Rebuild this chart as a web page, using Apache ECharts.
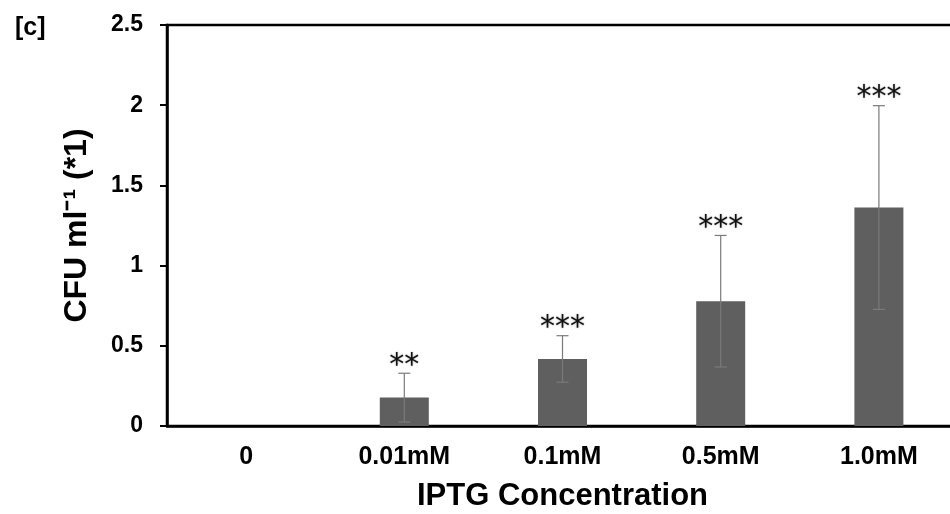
<!DOCTYPE html>
<html>
<head>
<meta charset="utf-8">
<script src="https://cdn.jsdelivr.net/npm/echarts@6/dist/echarts.min.js"></script>
<style>
  html, body { margin: 0; padding: 0; background: #fff; }
  #chart1 { width: 950px; height: 514px; }
</style>
</head>
<body>
<div id="chart1"></div>
<script>
var categories = ['0', '0.01mM', '0.1mM', '0.5mM', '1.0mM'];
var means = [0, 0.177, 0.418, 0.778, 1.362];
var errors = [0, 0.152, 0.145, 0.41, 0.635];
var stars = ['', '**', '***', '***', '***'];
var yTicks = [0, 0.5, 1, 1.5, 2, 2.5];

var chart1 = echarts.init(document.getElementById('chart1'));
var font = '"Liberation Sans", Arial, sans-serif';

var errData = means.map(function (m, i) {
	return [i, m, errors[i]];
});

var option = {
	backgroundColor: '#fff',
	animation: false,
	title: {
		text: '[c]',
		left: 10,
		top: 11,
		textStyle: {
			color: '#000',
			fontSize: 25,
			fontWeight: 'bold',
			fontFamily: font
		}
	},
	grid: {
		left: 167,
		right: -8,
		top: 25,
		bottom: 88,
		outerBoundsMode: 'none',
		containLabel: false,
		show: true,
		borderColor: '#000',
		borderWidth: 2.5
	},
	xAxis: {
		type: 'category',
		data: categories,
		name: 'IPTG Concentration',
		nameLocation: 'middle',
		nameGap: 55,
		nameTextStyle: {
			color: '#000',
			fontSize: 31,
			fontWeight: 'bold',
			fontFamily: font
		},
		axisLine: { lineStyle: { color: '#000', width: 2.5 } },
		axisTick: { alignWithLabel: true, length: 7, lineStyle: { color: '#000', width: 2 } },
		axisLabel: {
			color: '#000',
			fontSize: 25,
			fontWeight: 'bold',
			fontFamily: font,
			margin: 19
		},
		splitLine: { show: false }
	},
	yAxis: {
		type: 'value',
		min: yTicks[0],
		max: yTicks[yTicks.length - 1],
		interval: 0.5,
		name: 'CFU ml\u207B\u00B9 (*1)',
		nameLocation: 'middle',
		nameGap: 74,
		nameTextStyle: {
			color: '#000',
			fontSize: 32,
			fontWeight: 'bold',
			fontFamily: font
		},
		axisLine: { show: true, lineStyle: { color: '#000', width: 2.5 } },
		axisTick: { show: true, length: 7, lineStyle: { color: '#000', width: 2 } },
		axisLabel: {
			color: '#000',
			fontSize: 23,
			fontWeight: 'bold',
			fontFamily: font,
			margin: 24
		},
		splitLine: { show: false }
	},
	series: [{
		type: 'bar',
		data: means,
		barWidth: 49,
		itemStyle: { color: '#5f5f5f' }
	}, {
		type: 'custom',
		data: errData,
		z: 10,
		renderItem: function (params, api) {
			var i = api.value(0);
			var m = api.value(1);
			var e = api.value(2);
			if (!e) return null;
			var top = api.coord([i, m + e]);
			var bot = api.coord([i, m - e]);
			var cap = 6;
			var st = { stroke: '#7a7a7a', lineWidth: 1.2 };
			return {
				type: 'group',
				children: [{
					type: 'line',
					shape: { x1: top[0], y1: top[1], x2: bot[0], y2: bot[1] },
					style: st
				}, {
					type: 'line',
					shape: { x1: top[0] - cap, y1: top[1], x2: top[0] + cap, y2: top[1] },
					style: st
				}, {
					type: 'line',
					shape: { x1: bot[0] - cap, y1: bot[1], x2: bot[0] + cap, y2: bot[1] },
					style: st
				}, {
					type: 'text',
					x: top[0],
					y: top[1] + 8,
					style: {
						text: stars[params.dataIndex],
						align: 'center',
						verticalAlign: 'bottom',
						fill: '#111',
						font: '30px "DejaVu Sans", sans-serif',
						textShadowColor: 'rgba(0,0,0,0.35)',
						textShadowBlur: 2
					}
				}]
			};
		}
	}]
};

chart1.setOption(option);
</script>
</body>
</html>
